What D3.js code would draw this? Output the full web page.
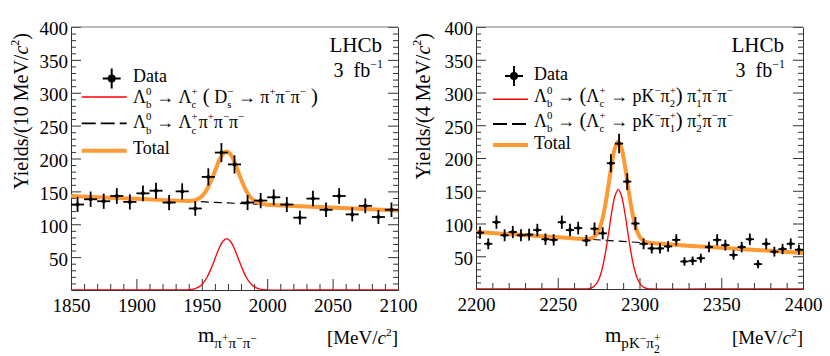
<!DOCTYPE html>
<html>
<head>
<meta charset="utf-8">
<script src="https://cdn.jsdelivr.net/npm/d3@7"></script>
<style>
  body { margin: 0; background: #fff; }
</style>
</head>
<body>
<svg id="chart" width="830" height="356"></svg>
<script>
// ---- data ----
const leftBins = [1855, 1865, 1875, 1885, 1895, 1905, 1915, 1925, 1935, 1945, 1955, 1965, 1975,
    1985, 1995, 2005, 2015, 2025, 2035, 2045, 2055, 2065, 2075, 2085, 2095];
const leftCounts = [130, 138, 135, 143, 134, 147, 151, 133, 150, 124, 172, 209, 191,
    133, 136, 141, 130, 110, 139, 122, 143, 115, 128, 111, 122];

const rightBins = [2202.5, 2207.5, 2212.5, 2217.5, 2222.5, 2227.5, 2232.5, 2237.5, 2242.5, 2247.5,
    2252.5, 2257.5, 2262.5, 2267.5, 2272.5, 2277.5, 2282.5, 2287.5, 2292.5, 2297.5,
    2302.5, 2307.5, 2312.5, 2317.5, 2322.5, 2327.5, 2332.5, 2337.5, 2342.5, 2347.5,
    2352.5, 2357.5, 2362.5, 2367.5, 2372.5, 2377.5, 2382.5, 2387.5, 2392.5, 2397.5];
const rightCounts = [86, 69, 102, 82, 87, 82, 83, 90, 76, 75,
    102, 90, 93, 74, 92, 85, 192, 222, 164, 100,
    69, 62, 62, 65, 75, 42, 43, 47, 64, 75,
    67, 52, 64, 76, 38, 69, 57, 61, 69, 60];

// fit curves, sampled by eye
const leftFitX = [1850, 1900, 1939, 1942, 1945, 1948, 1951, 1954, 1957, 1960, 1963, 1966, 1969,
    1972, 1975, 1978, 1981, 1984, 1987, 1990, 1993, 1996, 1999, 2040, 2100];
const leftSignal = [0, 0, 0.3, 0.9, 2.2, 5.1, 10.5, 19.4, 32.1, 47.3, 62.5, 73.8, 78,
    73.8, 62.5, 47.3, 32.1, 19.4, 10.5, 5.1, 2.2, 0.9, 0.3, 0, 0];
const leftTotal = [143, 138.6, 135.5, 135.8, 136.8, 139.5, 144.6, 153.2, 165.7, 180.6, 195.6, 206.6, 210.5,
    206.1, 194.5, 179, 163.6, 150.6, 141.4, 135.8, 132.6, 131, 130.2, 126.3, 121];
const leftBkgX = [1850, 2100];
const leftBkg = [143, 121];

const rightFitX = [2200, 2250, 2267, 2269, 2271, 2273, 2275, 2277, 2279, 2281, 2283, 2285, 2287,
    2289, 2291, 2293, 2295, 2297, 2299, 2301, 2303, 2305, 2307, 2340, 2400];
const rightSignal = [0, 0, 0.2, 0.7, 2.2, 5.9, 14, 29, 52.7, 84, 117, 142, 152,
    142, 117, 84, 52.7, 29, 14, 5.9, 2.2, 0.7, 0.2, 0, 0];
const rightTotal = [87, 79, 76.5, 76.7, 77.8, 81.2, 89, 103.7, 127.1, 158, 190.7, 215.4, 225.1,
    214.8, 189.4, 156.1, 124.5, 100.5, 85.2, 76.7, 72.7, 70.9, 70.1, 64.6, 55];
const rightBkgX = [2200, 2400];
const rightBkg = [87, 55];

const yTicks = [50, 100, 150, 200, 250, 300, 350, 400];
const leftXTicks = [1850, 1900, 1950, 2000, 2050, 2100];
const rightXTicks = [2200, 2250, 2300, 2350, 2400];

// pick the first serif face that is really installed
function pickFont(list) {
    const ctx = document.createElement("canvas").getContext("2d");
    const probe = "Yields MeV 1850 Data Total";
    for (const f of list) {
        let ok = true;
        for (const base of ["monospace", "sans-serif"]) {
            ctx.font = `20px ${base}`;
            const w0 = ctx.measureText(probe).width;
            ctx.font = `20px "${f}", ${base}`;
            if (Math.abs(ctx.measureText(probe).width - w0) < 0.01) ok = false;
        }
        if (ok) return `"${f}", serif`;
    }
    return "serif";
}
const FONT = pickFont(["Liberation Serif", "DejaVu Serif", "Noto Serif", "Tinos", "Times New Roman", "FreeSerif"]);

// rich text pieces: plain, superscript, subscript (stacked under previous)
const N = (t, o) => Object.assign({t: t}, o);
const SUP = (t) => ({t: t, s: 0.6, dy: -0.44});
const SUB = (t) => ({t: t, s: 0.6, dy: 0.3, stack: true});
const SUBONLY = (t) => ({t: t, s: 0.72, dy: 0.28});

const Lb = [N("Λ"), SUP("0"), SUB("b")];
const Lc = [N("Λ"), SUP("+"), SUB("c")];
const leftRedLabel = [...Lb, N(" → "), ...Lc, N(" (", {s: 1.15}), N(" D"), SUP("−"), SUB("s"),
    N(" → π"), SUP("+"), N("π"), SUP("−"), N("π"), SUP("−"), N(" )", {s: 1.15})];
const leftDashLabel = [...Lb, N(" → "), ...Lc, N("π", {gap: 1}), SUP("+"), N("π"), SUP("−"), N("π"), SUP("−")];
const rightRedLabel = [...Lb, N(" → "), N("(", {s: 1.15}), ...Lc, N(" → pK"), SUP("−"), N("π"), SUP("+"), SUB("2"),
    N(")", {s: 1.15}), N(" π"), SUP("+"), SUB("1"), N("π"), SUP("−"), N("π"), SUP("−")];
const rightDashLabel = [...Lb, N(" → "), N("(", {s: 1.15}), ...Lc, N(" → pK"), SUP("−"), N("π"), SUP("+"), SUB("1"),
    N(")", {s: 1.15}), N(" π"), SUP("+"), SUB("2"), N("π"), SUP("−"), N("π"), SUP("−")];

const svg = d3.select("#chart").style("font-family", FONT);

function rich(g, x, y, parts, size, anchor) {
    const grp = g.append("g");
    let lastStart = 0, maxEnd = 0;
    parts.forEach(p => {
        const fs = size * (p.s || 1);
        const start = p.stack ? lastStart : maxEnd + (p.gap || 0);
        const t = grp.append("text")
            .attr("x", start)
            .attr("y", (p.dy || 0) * size)
            .attr("font-size", fs)
            .attr("font-style", p.it ? "italic" : null)
            .attr("fill", "#000")
            .style("white-space", "pre")
            .text(p.t);
        const w = t.node().getComputedTextLength();
        lastStart = start;
        maxEnd = p.stack ? Math.max(maxEnd, start + w) : start + w;
    });
    const shift = anchor === "end" ? -maxEnd : 0;
    grp.attr("transform", `translate(${x + shift},${y})`);
    return grp;
}

const panels = [
    {
        left: 71, right: 398, top: 27, bottom: 290,
        xDomain: [1850, 2100], xTicks: leftXTicks,
        bins: leftBins, counts: leftCounts, binW: 10,
        fitX: leftFitX, signal: leftSignal, total: leftTotal, bkgX: leftBkgX, bkg: leftBkg,
        yTitle: [N("Yields/(10 MeV/"), N("c", {it: true}), SUP("2"), N(")")],
        yTitleX: 28,
        xTitle: [N("m"), SUBONLY("π"), {t: "+", s: 0.55, dy: -0.02}, SUBONLY("π"), {t: "−", s: 0.55, dy: -0.02},
            SUBONLY("π"), {t: "−", s: 0.55, dy: -0.02}],
        xTitleX: 198,
        legend: {markX: 111.7, lineX0: 81.7, lineX1: 126.7, textX: 133,
            rows: [78.5, 97, 123.3, 150.7], base: [82.2, 102.6, 128.3, 154.3]},
        redLabel: leftRedLabel, dashLabel: leftDashLabel,
        lhcbX: 382
    },
    {
        left: 476, right: 803, top: 27, bottom: 289,
        xDomain: [2200, 2400], xTicks: rightXTicks,
        bins: rightBins, counts: rightCounts, binW: 5,
        fitX: rightFitX, signal: rightSignal, total: rightTotal, bkgX: rightBkgX, bkg: rightBkg,
        yTitle: [N("Yields/(4 MeV/"), N("c", {it: true}), SUP("2"), N(")")],
        yTitleX: 430,
        xTitle: [N("m"), {t: "pK", s: 0.72, dy: 0.3}, {t: "−", s: 0.55, dy: 0.0},
            {t: "π", s: 0.72, dy: 0.3}, {t: "+", s: 0.55, dy: -0.02}, {t: "2", s: 0.55, dy: 0.5, stack: true}],
        xTitleX: 605,
        legend: {markX: 514, lineX0: 493, lineX1: 528, textX: 534,
            rows: [76, 99.3, 124, 145], base: [80.2, 101.7, 126.7, 149]},
        redLabel: rightRedLabel, dashLabel: rightDashLabel,
        lhcbX: 784
    }
];

panels.forEach((p, i) => {
    const x = d3.scaleLinear().domain(p.xDomain).range([p.left, p.right]);
    const y = d3.scaleLinear().domain([0, 400]).range([p.bottom, p.top]);
    const g = svg.append("g");

    const clipId = "clip" + i;
    svg.append("clipPath").attr("id", clipId)
        .append("rect").attr("x", p.left).attr("y", p.top)
        .attr("width", p.right - p.left).attr("height", p.bottom - p.top);

    // axes: ticks pointing inwards, ROOT style
    const minorY = d3.range(0, 401, 10).filter(v => v % 50 !== 0);
    const minorX = d3.range(p.xDomain[0], p.xDomain[1] + 1, 10).filter(v => v % 50 !== 0);

    function styleAxis(ax) {
        ax.attr("font-family", null).attr("font-size", null);
        ax.selectAll("line, path").attr("stroke", "#333").attr("stroke-width", 1);
        ax.selectAll("text").attr("font-size", 19).attr("fill", "#000");
    }

    const yAx = g.append("g").attr("transform", `translate(${p.left},0)`)
        .call(d3.axisLeft(y).tickValues(yTicks).tickSize(-10).tickSizeOuter(0).tickPadding(3).tickFormat(d3.format("d")));
    yAx.selectAll("text").attr("dy", "0.42em");
    styleAxis(yAx);
    g.append("g").attr("transform", `translate(${p.left},0)`)
        .call(d3.axisLeft(y).tickValues(minorY).tickSize(-5).tickSizeOuter(0).tickFormat(""))
        .call(styleAxis).select(".domain").remove();

    const yAxR = g.append("g").attr("transform", `translate(${p.right},0)`)
        .call(d3.axisRight(y).tickValues(yTicks).tickSize(-10).tickSizeOuter(0).tickFormat(""));
    styleAxis(yAxR);
    g.append("g").attr("transform", `translate(${p.right},0)`)
        .call(d3.axisRight(y).tickValues(minorY).tickSize(-5).tickSizeOuter(0).tickFormat(""))
        .call(styleAxis).select(".domain").remove();

    const xAx = g.append("g").attr("transform", `translate(0,${p.bottom})`)
        .call(d3.axisBottom(x).tickValues(p.xTicks).tickSize(-11).tickSizeOuter(0).tickPadding(9).tickFormat(d3.format("d")));
    styleAxis(xAx);
    g.append("g").attr("transform", `translate(0,${p.bottom})`)
        .call(d3.axisBottom(x).tickValues(minorX).tickSize(-6).tickSizeOuter(0).tickFormat(""))
        .call(styleAxis).select(".domain").remove();

    // top border
    g.append("line").attr("x1", p.left).attr("x2", p.right).attr("y1", p.top).attr("y2", p.top)
        .attr("stroke", "#777").attr("stroke-width", 1.2);

    // fit curves
    const curves = g.append("g").attr("clip-path", `url(#${clipId})`);
    const line = d3.line().x(d => x(d[0])).y(d => y(d[1])).curve(d3.curveCatmullRom);

    curves.append("path")
        .attr("d", line(p.bkgX.map((v, k) => [v, p.bkg[k]])))
        .attr("fill", "none").attr("stroke", "#000").attr("stroke-width", 1.2)
        .attr("stroke-dasharray", "8,5");
    curves.append("path")
        .attr("d", line(p.fitX.map((v, k) => [v, p.total[k]])))
        .attr("fill", "none").attr("stroke", "#ff9933").attr("stroke-width", 4);
    curves.append("path")
        .attr("d", line(p.fitX.map((v, k) => [v, p.signal[k]])))
        .attr("fill", "none").attr("stroke", "#ff0000").attr("stroke-width", 1.3);

    // data points with Poisson error bars
    const pts = g.append("g").selectAll("g").data(p.bins.map((b, k) => ({b: b, n: p.counts[k]})))
        .join("g");
    pts.append("line")
        .attr("x1", d => x(d.b - p.binW / 2)).attr("x2", d => x(d.b + p.binW / 2))
        .attr("y1", d => y(d.n)).attr("y2", d => y(d.n))
        .attr("stroke", "#000").attr("stroke-width", 1.8);
    pts.append("line")
        .attr("x1", d => x(d.b)).attr("x2", d => x(d.b))
        .attr("y1", d => y(d.n - Math.sqrt(d.n))).attr("y2", d => y(d.n + Math.sqrt(d.n)))
        .attr("stroke", "#000").attr("stroke-width", 1.8);
    pts.append("circle").attr("cx", d => x(d.b)).attr("cy", d => y(d.n)).attr("r", 2)
        .attr("fill", "#000");

    // legend
    const L = p.legend;
    const lg = g.append("g");
    lg.append("line").attr("x1", L.markX - 9).attr("x2", L.markX + 9).attr("y1", L.rows[0]).attr("y2", L.rows[0])
        .attr("stroke", "#000").attr("stroke-width", 2);
    lg.append("line").attr("x1", L.markX).attr("x2", L.markX).attr("y1", L.rows[0] - 10).attr("y2", L.rows[0] + 10)
        .attr("stroke", "#000").attr("stroke-width", 2);
    lg.append("circle").attr("cx", L.markX).attr("cy", L.rows[0]).attr("r", 4).attr("fill", "#000");
    rich(lg, L.textX, L.base[0], [N("Data")], 18);

    lg.append("line").attr("x1", L.lineX0).attr("x2", L.lineX1).attr("y1", L.rows[1]).attr("y2", L.rows[1])
        .attr("stroke", "#ff0000").attr("stroke-width", 1.5);
    rich(lg, L.textX, L.base[1], p.redLabel, 18);

    lg.append("line").attr("x1", L.lineX0).attr("x2", L.lineX1).attr("y1", L.rows[2]).attr("y2", L.rows[2])
        .attr("stroke", "#000").attr("stroke-width", 1.8).attr("stroke-dasharray", "14,5");
    rich(lg, L.textX, L.base[2], p.dashLabel, 18);

    lg.append("line").attr("x1", L.lineX0).attr("x2", L.lineX1).attr("y1", L.rows[3]).attr("y2", L.rows[3])
        .attr("stroke", "#ff9933").attr("stroke-width", 4);
    rich(lg, L.textX, L.base[3], [N("Total")], 18);

    // LHCb label
    rich(g, p.lhcbX, 52, [N("LHCb")], 21, "end");
    rich(g, p.lhcbX + 1, 77, [N("3"), N("fb", {gap: 10}), SUP("−1")], 20, "end");

    // axis titles
    const yt = g.append("g").attr("transform", `translate(${p.yTitleX},33) rotate(-90)`);
    rich(yt, 0, 0, p.yTitle, 20, "end");
    rich(g, p.xTitleX, 342, p.xTitle, 21);
    rich(g, p.right, 344, [N("[MeV/"), N("c", {it: true}), SUP("2"), N("]")], 19, "end");
});
</script>
</body>
</html>
